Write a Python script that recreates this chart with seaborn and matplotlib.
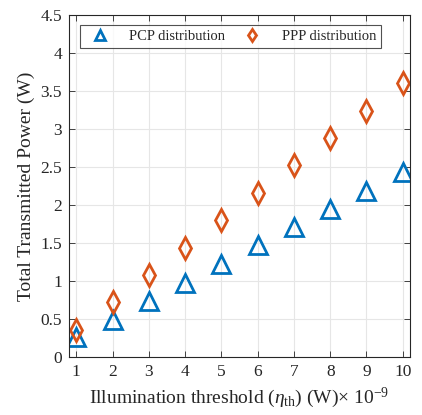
import matplotlib
matplotlib.use("Agg")
import matplotlib.pyplot as plt
import seaborn as sns
import pandas as pd

thresholds = [1, 2, 3, 4, 5, 6, 7, 8, 9, 10]
pcp_power = [0.26, 0.49, 0.74, 0.98, 1.23, 1.47, 1.71, 1.95, 2.19, 2.43]
ppp_power = [0.35, 0.72, 1.08, 1.44, 1.80, 2.16, 2.52, 2.88, 3.24, 3.61]
yticks = [0, 0.5, 1, 1.5, 2, 2.5, 3, 3.5, 4, 4.5]
ytick_labels = ["0", "0.5", "1", "1.5", "2", "2.5", "3", "3.5", "4", "4.5"]

sns.set_theme(style="whitegrid")
plt.rcParams["font.family"] = ["Liberation Serif", "DejaVu Serif"]
plt.rcParams["mathtext.fontset"] = "custom"
plt.rcParams["mathtext.rm"] = "Liberation Serif"
plt.rcParams["mathtext.it"] = "Liberation Serif:italic"

blue = "#0072BD"
orange = "#D95319"
axcol = "#262626"

df = pd.DataFrame({"x": thresholds, "pcp": pcp_power, "ppp": ppp_power})

fig = plt.figure(figsize=(4.22, 4.15), dpi=100)
ax = fig.add_axes([0.1635, 0.1398, 0.8081, 0.8241])
ax.set_facecolor("white")

sns.lineplot(data=df, x="x", y="pcp", ax=ax, linestyle="", marker="^",
             markersize=12.5, markerfacecolor="none", markeredgecolor=blue,
             markeredgewidth=2, color=blue, label="PCP distribution")
sns.lineplot(data=df, x="x", y="ppp", ax=ax, linestyle="", marker="d",
             markersize=11, markerfacecolor="none", markeredgecolor=orange,
             markeredgewidth=2, color=orange, label="PPP distribution")

ax.set_xlim(0.8, 10.2)
ax.set_ylim(0, 4.5)
ax.set_xticks(thresholds)
ax.set_xticklabels([str(t) for t in thresholds])
ax.set_yticks(yticks)
ax.set_yticklabels(ytick_labels)

ax.grid(True, color="#e6e6e6", linewidth=0.8)
for sp in ax.spines.values():
    sp.set_visible(True)
    sp.set_color(axcol)
    sp.set_linewidth(0.8)
ax.tick_params(direction="in", length=4, width=0.6, colors=axcol,
               labelsize=12.5, top=True, right=True, bottom=True, left=True,
               labelcolor=axcol, pad=5)

ax.set_xlabel(r"Illumination threshold ($\eta_{\mathrm{th}}$) (W)$\times$ 10$^{\mathrm{-9}}$",
              fontsize=14, color=axcol)
ax.set_ylabel("Total Transmitted Power (W)", fontsize=14, color=axcol)

leg = ax.legend(loc="upper left", ncol=2, bbox_to_anchor=(0.032, 0.971),
                borderaxespad=0, frameon=True, fancybox=False, edgecolor=axcol,
                fontsize=10.5, markerscale=0.6, handletextpad=1.0,
                columnspacing=0.9, borderpad=0.35)
leg.get_frame().set_linewidth(0.8)

fig.savefig("out.png", dpi=100)
